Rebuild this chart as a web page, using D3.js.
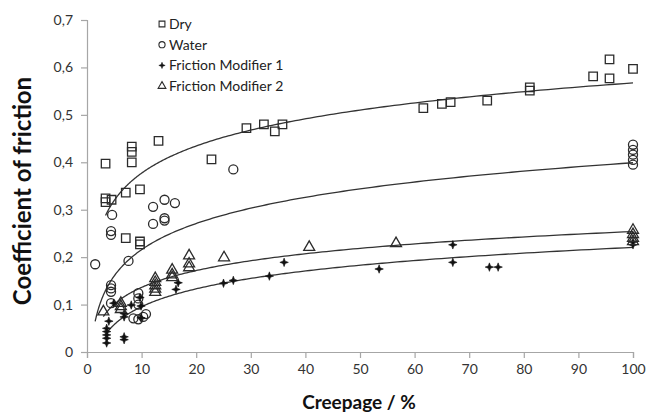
<!DOCTYPE html>
<html><head><meta charset="utf-8">
<script src="https://cdn.jsdelivr.net/npm/d3@7"></script>
<style>body{margin:0;background:#fff}svg{display:block}text{font-family:Lato,"Open Sans",sans-serif}</style>
</head><body><svg id="c" width="648" height="414"></svg>
<script>
// ---- data ----
const seriesNames = ["Dry", "Water", "Friction Modifier 1", "Friction Modifier 2"];
const dryX = [3.4,3.4,3.4,4.5,7.1,7.1,8.2,8.2,8.2,9.7,9.7,9.7,13.1,22.8,29.2,32.4,34.4,35.8,61.6,65.0,66.6,73.3,81.1,81.1,92.7,95.7,95.7,100];
const dryY = [0.397,0.324,0.316,0.321,0.336,0.240,0.433,0.422,0.400,0.343,0.233,0.227,0.445,0.406,0.472,0.480,0.465,0.480,0.514,0.523,0.527,0.530,0.558,0.551,0.581,0.617,0.577,0.597];
const waterX = [1.5,4.6,4.4,4.4,12.1,14.2,16.1,12.1,14.2,14.2,7.6,4.4,4.4,4.4,4.4,9.4,9.4,9.4,8.5,9.4,10.3,10.8,26.8,100,100,100,100,100];
const waterY = [0.185,0.289,0.255,0.247,0.306,0.321,0.314,0.270,0.282,0.277,0.192,0.141,0.134,0.127,0.103,0.124,0.113,0.100,0.071,0.069,0.074,0.080,0.385,0.437,0.426,0.416,0.405,0.395];
const fm1X = [4.0,3.6,3.6,3.6,3.6,3.6,6.8,6.8,6.8,6.8,4.9,8.1,9.9,9.9,9.7,16.7,16.3,25.0,26.8,33.4,36.1,53.5,67.0,67.0,73.7,75.3,100,100];
const fm1Y = [0.065,0.050,0.043,0.036,0.029,0.019,0.032,0.026,0.081,0.074,0.103,0.099,0.097,0.072,0.115,0.146,0.132,0.145,0.151,0.160,0.189,0.175,0.226,0.189,0.179,0.179,0.226,0.232];
const fm2X = [3.0,6.2,6.2,6.2,12.5,12.5,12.5,12.5,12.5,15.6,15.6,15.6,18.7,18.7,18.7,25.1,40.7,56.6,100,100,100,100];
const fm2Y = [0.085,0.103,0.096,0.090,0.155,0.147,0.140,0.133,0.126,0.173,0.163,0.157,0.203,0.186,0.178,0.199,0.221,0.229,0.257,0.248,0.240,0.233];
const xTicks = [0,10,20,30,40,50,60,70,80,90,100];
const yTicks = [0,0.1,0.2,0.3,0.4,0.5,0.6,0.7];
const yTickLabels = ["0","0,1","0,2","0,3","0,4","0,5","0,6","0,7"];
const xTitle = "Creepage / %";
const yTitle = "Coefficient of friction";

// ---- layout ----
const svg = d3.select("#c");
const x = d3.scaleLinear().domain([0,100]).range([87,633]);
const y = d3.scaleLinear().domain([0,0.7]).range([352,20]);
const axisCol = "#a6a6a6", ink = "#2b2b2b";

// 4-point star symbol (Excel-like filled diamond marker)
const star4 = { draw(ctx, size){
  const r = Math.sqrt(size), ri = r*0.38;
  for (let i=0;i<8;i++){
    const ang = -Math.PI/2 + i*Math.PI/4, rr = i%2 ? ri : r;
    const px = Math.cos(ang)*rr, py = Math.sin(ang)*rr;
    if (i===0) ctx.moveTo(px,py); else ctx.lineTo(px,py);
  }
  ctx.closePath();
}};

function zip(xs, ys){ return xs.map((v,i)=>({x:v,y:ys[i]})); }
const series = [
  {name: seriesNames[0], pts: zip(dryX,dryY), sym: d3.symbolSquare, size: 72, fill: "none"},
  {name: seriesNames[1], pts: zip(waterX,waterY), sym: d3.symbolCircle, size: 64, fill: "none"},
  {name: seriesNames[2], pts: zip(fm1X,fm1Y), sym: star4, size: 18, fill: "#111"},
  {name: seriesNames[3], pts: zip(fm2X,fm2Y), sym: d3.symbolTriangle, size: 52, fill: "none"}
];

// axes
const gx = svg.append("g").attr("transform","translate(0,352)")
  .call(d3.axisBottom(x).tickValues(xTicks).tickSize(6).tickPadding(6));
const gy = svg.append("g").attr("transform","translate(87,0)")
  .call(d3.axisLeft(y).tickValues(yTicks).tickFormat((d,i)=>yTickLabels[i]).tickSize(6).tickPadding(8));
[gx,gy].forEach(g=>{
  g.selectAll("path,line").attr("stroke",axisCol).attr("stroke-width",1.2);
  g.selectAll("text").attr("fill","#333").style("font-size","14px").style("font-family","Lato, sans-serif");
});

// log trendlines (least squares of y on ln x) computed from the data
const line = d3.line().x(d=>x(d.x)).y(d=>y(d.y));
series.forEach(s=>{
  const lx = s.pts.map(p=>Math.log(p.x));
  const mx = d3.mean(lx), my = d3.mean(s.pts,p=>p.y);
  let sxy=0,sxx=0; lx.forEach((v,i)=>{sxy+=(v-mx)*(s.pts[i].y-my); sxx+=(v-mx)*(v-mx);});
  const a = sxy/sxx, b = my - a*mx;
  const xmin = d3.min(s.pts,p=>p.x), xmax = d3.max(s.pts,p=>p.x);
  const pts = d3.range(0,201).map(i=>{const xv = xmin*Math.pow(xmax/xmin,i/200); return {x:xv,y:a*Math.log(xv)+b};});
  svg.append("path").attr("d",line(pts)).attr("fill","none").attr("stroke","#333").attr("stroke-width",1.3);
});

// markers
series.forEach(s=>{
  const sym = d3.symbol().type(s.sym).size(s.size);
  svg.append("g").selectAll("path").data(s.pts).join("path")
    .attr("d",sym).attr("transform",d=>`translate(${x(d.x)},${y(d.y)})`)
    .attr("fill",s.fill).attr("stroke",s.fill==="none"?ink:"#111").attr("stroke-width",s.fill==="none"?1.3:0.6);
});

// legend
const leg = svg.append("g");
const legSym = [{t:d3.symbolSquare,s:34,f:"none"},{t:d3.symbolCircle,s:30,f:"none"},{t:star4,s:10,f:"#111"},{t:d3.symbolTriangle,s:26,f:"none"}];
seriesNames.forEach((nm,i)=>{
  const yy = 24 + i*20.7;
  leg.append("path").attr("d",d3.symbol().type(legSym[i].t).size(legSym[i].s)())
    .attr("transform",`translate(162,${yy})`).attr("fill",legSym[i].f).attr("stroke",legSym[i].f==="none"?ink:"#111").attr("stroke-width",legSym[i].f==="none"?1.1:0.5);
  leg.append("text").attr("x",169).attr("y",yy).attr("dy","0.35em").text(nm)
    .attr("fill","#222").style("font-size","14px");
});

// titles
svg.append("text").attr("x",359).attr("y",409).attr("text-anchor","middle")
  .style("font-size","19px").style("font-weight","bold").attr("fill","#111").text(xTitle);
svg.append("text").attr("transform","translate(31,191) rotate(-90)").attr("text-anchor","middle")
  .style("font-size","24px").style("font-weight","bold").attr("fill","#111").text(yTitle);
</script></body></html>
